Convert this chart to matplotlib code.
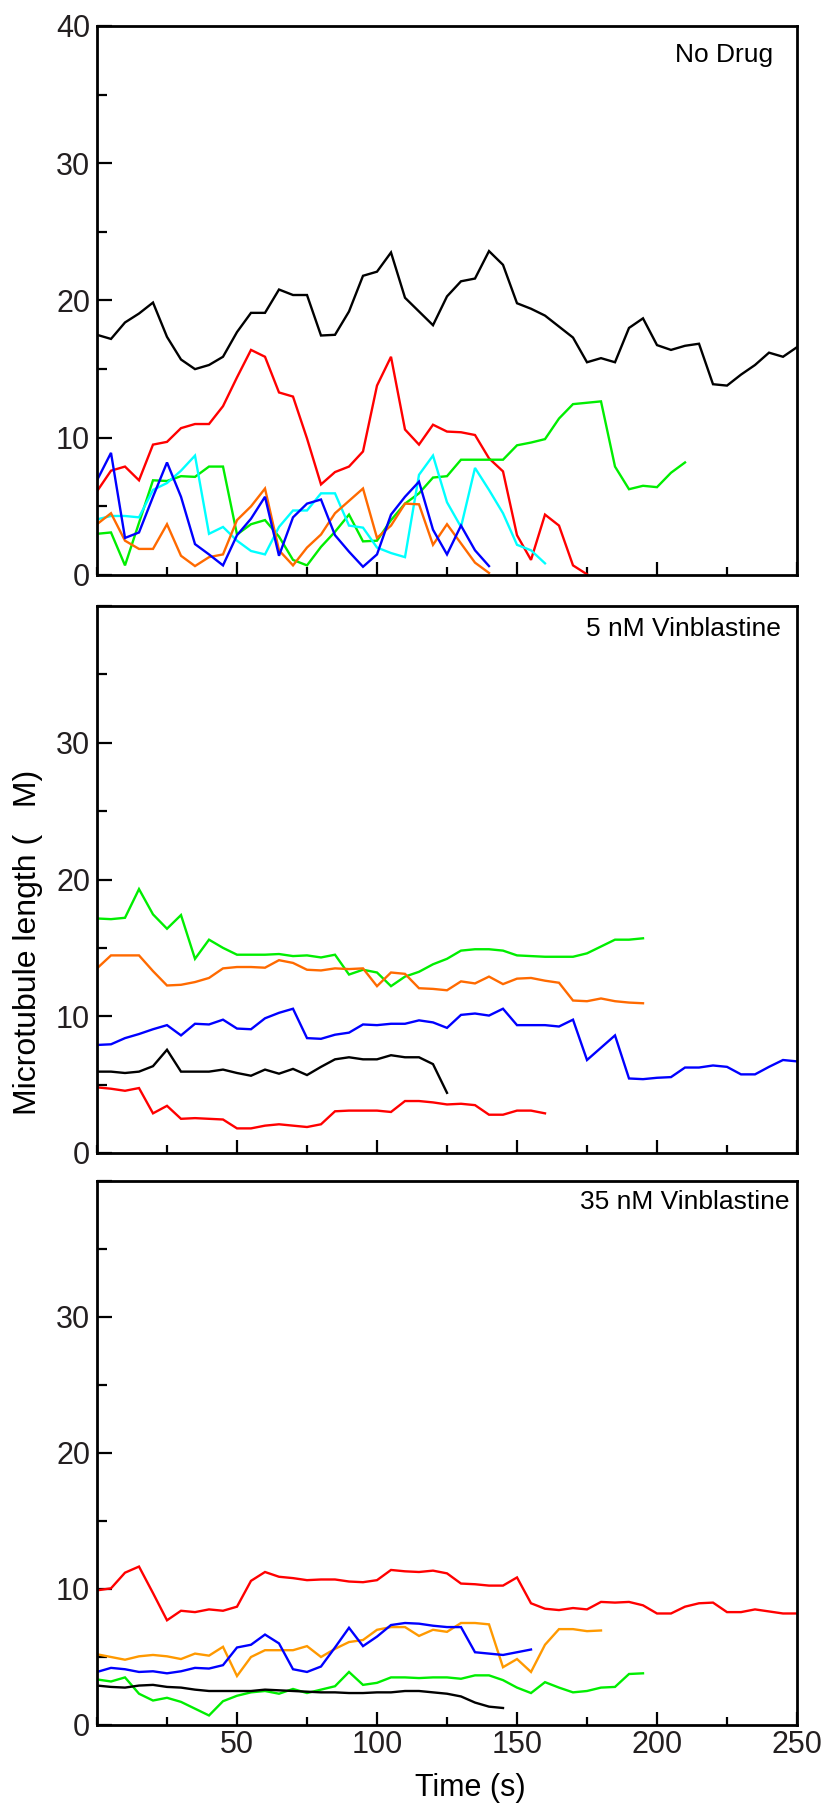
import matplotlib
matplotlib.use("Agg")
import matplotlib.pyplot as plt
from matplotlib.ticker import MultipleLocator, FixedLocator

plt.rcParams['font.family'] = ['Liberation Sans', 'DejaVu Sans']

# ---------------- data (time step 5 s, series start at t = 0) ----------------
TIME_STEP = 5

# Panel 1: No Drug
nd_black = [17.5, 17.2, 18.4, 19.05, 19.85, 17.35, 15.7, 15.0, 15.3, 15.9, 17.7, 19.1, 19.1,
            20.8, 20.4, 20.4, 17.45, 17.5, 19.2, 21.8, 22.1, 23.5, 20.2, 19.2, 18.2, 20.3,
            21.4, 21.6, 23.6, 22.6, 19.8, 19.4, 18.9, 18.1, 17.3, 15.5, 15.8, 15.5, 18.0,
            18.7, 16.75, 16.4, 16.7, 16.85, 13.9, 13.8, 14.6, 15.3, 16.2, 15.9, 16.6]
nd_red = [6.1, 7.6, 7.9, 6.9, 9.5, 9.7, 10.7, 11.0, 11.0, 12.3, 14.4, 16.4, 15.9, 13.3, 13.0,
          9.95, 6.6, 7.5, 7.9, 9.0, 13.8, 15.9, 10.6, 9.5, 10.95, 10.45, 10.4, 10.2, 8.5,
          7.55, 2.9, 1.1, 4.4, 3.6, 0.7, 0.05]
nd_green = [3.0, 3.1, 0.7, 3.8, 6.9, 6.85, 7.2, 7.15, 7.9, 7.9, 2.95, 3.7, 4.0, 2.8, 1.1, 0.7,
            2.05, 3.15, 4.4, 2.45, 2.5, 4.0, 5.2, 5.95, 7.1, 7.2, 8.4, 8.4, 8.4, 8.4, 9.45,
            9.65, 9.9, 11.4, 12.45, 12.55, 12.65, 7.9, 6.25, 6.5, 6.4, 7.45, 8.2]
nd_cyan = [4.05, 4.3, 4.3, 4.2, 6.2, 6.7, 7.6, 8.7, 3.0, 3.5, 2.5, 1.75, 1.5, 3.5, 4.7, 4.7,
           5.95, 5.95, 3.6, 3.45, 2.0, 1.6, 1.3, 7.3, 8.7, 5.3, 3.5, 7.8, 6.2, 4.5, 2.2, 1.8,
           0.85]
nd_orange = [3.7, 4.5, 2.5, 1.9, 1.9, 3.7, 1.4, 0.65, 1.3, 1.5, 4.0, 5.0, 6.3, 1.8, 0.7, 2.0,
             2.95, 4.5, 5.4, 6.3, 2.7, 3.6, 5.2, 5.15, 2.2, 3.7, 2.3, 0.9, 0.15]
nd_blue = [6.9, 8.9, 2.7, 3.1, 5.7, 8.2, 5.7, 2.25, 1.5, 0.7, 2.9, 4.1, 5.7, 1.4, 4.2, 5.2, 5.5,
           2.9, 1.7, 0.6, 1.5, 4.4, 5.7, 6.8, 3.3, 1.5, 3.6, 1.8, 0.65]

# Panel 2: 5 nM Vinblastine
v5_green = [17.15, 17.1, 17.2, 19.3, 17.45, 16.4, 17.4, 14.2, 15.6, 15.0, 14.5, 14.5, 14.5,
            14.55, 14.4, 14.45, 14.3, 14.5, 13.05, 13.4, 13.2, 12.2, 12.9, 13.25, 13.8, 14.2,
            14.8, 14.9, 14.9, 14.8, 14.45, 14.4, 14.35, 14.35, 14.35, 14.6, 15.1, 15.6, 15.6,
            15.7]
v5_orange = [13.5, 14.45, 14.45, 14.45, 13.3, 12.25, 12.3, 12.5, 12.8, 13.5, 13.6, 13.6, 13.55,
             14.1, 13.9, 13.4, 13.35, 13.5, 13.45, 13.5, 12.2, 13.2, 13.1, 12.05, 12.0, 11.9,
             12.55, 12.4, 12.9, 12.35, 12.75, 12.8, 12.6, 12.45, 11.15, 11.1, 11.3, 11.1, 11.0,
             10.95]
v5_blue = [7.9, 7.95, 8.4, 8.7, 9.05, 9.35, 8.6, 9.45, 9.4, 9.75, 9.1, 9.05, 9.85, 10.25, 10.55,
           8.4, 8.35, 8.65, 8.8, 9.4, 9.35, 9.45, 9.45, 9.7, 9.55, 9.15, 10.1, 10.2, 10.05,
           10.55, 9.35, 9.35, 9.35, 9.25, 9.75, 6.8, 7.7, 8.6, 5.45, 5.4, 5.5, 5.55, 6.25, 6.25,
           6.4, 6.3, 5.75, 5.75, 6.3, 6.8, 6.7]
v5_black = [5.95, 5.95, 5.85, 5.95, 6.35, 7.55, 5.95, 5.95, 5.95, 6.1, 5.85, 5.65, 6.1, 5.8,
            6.15, 5.7, 6.3, 6.85, 7.0, 6.85, 6.85, 7.15, 7.0, 7.0, 6.5, 4.4]
v5_red = [4.8, 4.7, 4.55, 4.75, 2.9, 3.45, 2.5, 2.55, 2.5, 2.45, 1.8, 1.8, 2.0, 2.1, 2.0, 1.9,
          2.1, 3.05, 3.1, 3.1, 3.1, 3.0, 3.8, 3.8, 3.7, 3.55, 3.6, 3.5, 2.8, 2.8, 3.1, 3.1, 2.9]

# Panel 3: 35 nM Vinblastine
v35_red = [9.9, 10.05, 11.2, 11.65, 9.7, 7.7, 8.4, 8.3, 8.5, 8.4, 8.7, 10.6, 11.25, 10.9, 10.8,
           10.65, 10.7, 10.7, 10.55, 10.5, 10.65, 11.4, 11.3, 11.25, 11.35, 11.15, 10.4, 10.35,
           10.25, 10.25, 10.85, 8.95, 8.55, 8.45, 8.6, 8.5, 9.05, 9.0, 9.05, 8.8, 8.2, 8.2, 8.7,
           8.95, 9.0, 8.3, 8.3, 8.5, 8.35, 8.2, 8.2]
v35_orange = [5.2, 5.0, 4.8, 5.05, 5.15, 5.05, 4.85, 5.25, 5.1, 5.75, 3.6, 5.0, 5.5, 5.5, 5.5,
              5.8, 5.0, 5.6, 6.1, 6.25, 7.0, 7.2, 7.2, 6.55, 7.0, 6.85, 7.5, 7.5, 7.4, 4.25,
              4.85, 3.9, 5.9, 7.05, 7.05, 6.9, 6.95]
v35_blue = [3.9, 4.2, 4.1, 3.9, 3.95, 3.8, 3.95, 4.2, 4.15, 4.4, 5.7, 5.9, 6.65, 6.0, 4.1, 3.9,
            4.3, 5.7, 7.15, 5.8, 6.5, 7.35, 7.5, 7.45, 7.3, 7.2, 7.2, 5.35, 5.25, 5.15, 5.35,
            5.55]
v35_green = [3.35, 3.2, 3.5, 2.3, 1.8, 2.0, 1.7, 1.2, 0.7, 1.75, 2.15, 2.4, 2.5, 2.3, 2.65, 2.35,
             2.6, 2.85, 3.9, 2.95, 3.1, 3.5, 3.5, 3.45, 3.5, 3.5, 3.4, 3.65, 3.65, 3.3, 2.75,
             2.35, 3.15, 2.75, 2.4, 2.5, 2.75, 2.8, 3.75, 3.8]
v35_black = [2.9, 2.8, 2.75, 2.9, 2.95, 2.8, 2.75, 2.6, 2.5, 2.5, 2.5, 2.5, 2.6, 2.55, 2.5, 2.45,
             2.4, 2.4, 2.35, 2.35, 2.4, 2.4, 2.5, 2.5, 2.4, 2.3, 2.1, 1.65, 1.35, 1.25]

panel_titles = ["No Drug", "5 nM Vinblastine", "35 nM Vinblastine"]
x_tick_labels = ["50", "100", "150", "200", "250"]
y_tick_labels_top = ["0", "10", "20", "30", "40"]
y_tick_labels_other = ["0", "10", "20", "30", ""]

RED, BLUE, GREEN, CYAN, BLACK = "#FF0000", "#0000FF", "#00EE00", "#00FFFF", "#000000"
ORANGE1, ORANGE3 = "#FF6A00", "#FF9900"

panels = [
    [(nd_black, BLACK), (nd_red, RED), (nd_green, GREEN), (nd_cyan, CYAN),
     (nd_orange, ORANGE1), (nd_blue, BLUE)],
    [(v5_green, GREEN), (v5_orange, ORANGE1), (v5_blue, BLUE), (v5_black, BLACK),
     (v5_red, RED)],
    [(v35_red, RED), (v35_orange, ORANGE3), (v35_blue, BLUE), (v35_green, GREEN),
     (v35_black, BLACK)],
]

# ---------------- layout ----------------
W, H = 827, 1811
fig = plt.figure(figsize=(W / 100, H / 100), dpi=100)
boxes = [(26, 575), (606, 1153), (1181, 1725)]
left_px, right_px = 97, 797
TICK_COLOR = "#231F20"
title_pos = [(773, 55), (781, 629), (789, 1202)]

for i, ((top, bot), series) in enumerate(zip(boxes, panels)):
    ax = fig.add_axes([left_px / W, 1 - bot / H, (right_px - left_px) / W, (bot - top) / H])
    for vals, col in series:
        t = [TIME_STEP * k for k in range(len(vals))]
        ax.plot(t, vals, color=col, lw=1.7, solid_joinstyle='miter', clip_on=True)
    ax.set_xlim(0, 250)
    ax.set_ylim(0, 40)
    for s in ["top", "right", "bottom", "left"]:
        ax.spines[s].set_linewidth(2.0)
        ax.spines[s].set_color("black")
    ax.xaxis.set_major_locator(FixedLocator([50, 100, 150, 200, 250]))
    ax.xaxis.set_minor_locator(MultipleLocator(25))
    ax.yaxis.set_major_locator(FixedLocator([0, 10, 20, 30, 40]))
    ax.yaxis.set_minor_locator(MultipleLocator(5))
    ax.tick_params(axis="x", which="major", direction="in", length=9.4, width=1.6,
                   top=False, labelsize=22, labelcolor=TICK_COLOR, pad=3.5)
    ax.tick_params(axis="x", which="minor", direction="in", length=5.8, width=1.6, top=False)
    ax.tick_params(axis="y", which="major", direction="in", length=10.8, width=1.6,
                   right=False, labelsize=22, labelcolor=TICK_COLOR, pad=5)
    ax.tick_params(axis="y", which="minor", direction="in", length=7.2, width=1.6, right=False)
    ax.set_yticklabels(y_tick_labels_top if i == 0 else y_tick_labels_other)
    if i == 2:
        ax.set_xticklabels(x_tick_labels)
    else:
        ax.set_xticklabels([])
    tx, ty = title_pos[i]
    fig.text(tx / W, 1 - ty / H, panel_titles[i], ha="right", va="center",
             fontsize=19, color="black")

fig.text(28 / W, 1 - 942 / H, "Microtubule length (   M)", rotation=90,
         ha="center", va="center", fontsize=23, color="black")
fig.text(470 / W, 1 - 1788 / H, "Time (s)", ha="center", va="center",
         fontsize=22, color="black")

fig.savefig("out.png", dpi=100)
